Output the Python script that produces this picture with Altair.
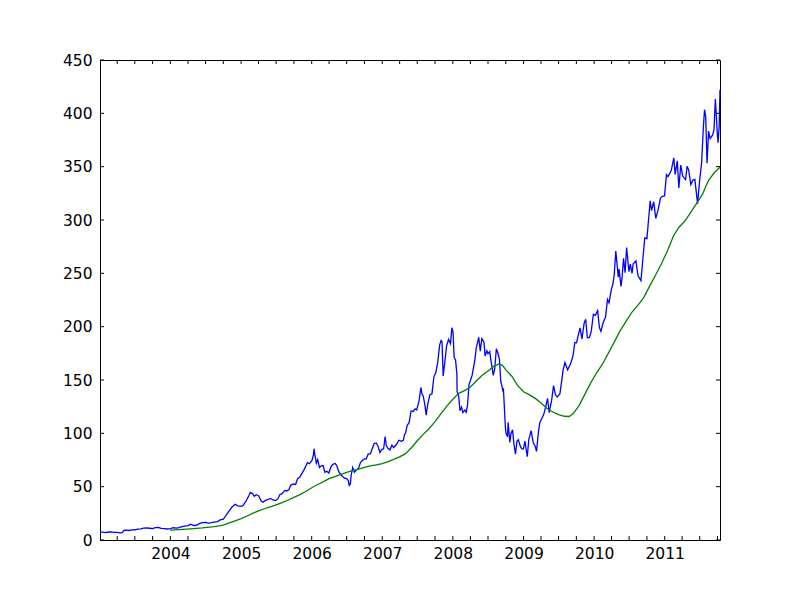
import altair as alt
import pandas as pd

# ---- data ----
price_dates = [
 "2003-01-02","2003-01-15","2003-02-01","2003-02-15","2003-03-01","2003-03-15","2003-04-01","2003-04-15","2003-04-28",
 "2003-05-05","2003-05-15","2003-06-01","2003-06-15","2003-07-01","2003-07-15","2003-08-01","2003-08-15","2003-09-01",
 "2003-09-15","2003-10-01","2003-10-15","2003-11-01","2003-11-15","2003-12-01","2003-12-15",
 "2004-01-02","2004-01-15","2004-02-01","2004-02-15","2004-03-01","2004-03-15","2004-04-01","2004-04-15","2004-05-01",
 "2004-05-15","2004-06-01","2004-06-15","2004-07-01","2004-07-15","2004-08-01","2004-08-15","2004-09-01","2004-09-15",
 "2004-10-01","2004-10-15","2004-11-01","2004-11-15","2004-12-01","2004-12-15",
 "2005-01-03","2005-01-12","2005-01-20","2005-01-25","2005-02-01","2005-02-10","2005-02-17","2005-03-01","2005-03-10",
 "2005-03-20","2005-04-01","2005-04-15","2005-04-25","2005-05-05","2005-05-20","2005-06-01","2005-06-15","2005-06-28",
 "2005-07-10","2005-07-20","2005-08-01","2005-08-15","2005-08-25","2005-09-05","2005-09-15","2005-09-28","2005-10-10",
 "2005-10-20","2005-11-01","2005-11-10","2005-11-20","2005-12-01","2005-12-10","2005-12-20",
 "2006-01-03","2006-01-10","2006-01-13","2006-01-18","2006-01-25","2006-02-01","2006-02-10","2006-02-20","2006-03-01",
 "2006-03-10","2006-03-20","2006-03-31","2006-04-10","2006-04-20","2006-05-01","2006-05-10","2006-05-20","2006-06-01",
 "2006-06-10","2006-06-20","2006-07-01","2006-07-10","2006-07-14","2006-07-20","2006-07-24","2006-08-01","2006-08-10",
 "2006-08-20","2006-09-01","2006-09-10","2006-09-20","2006-10-01","2006-10-10","2006-10-20","2006-11-01","2006-11-10",
 "2006-11-20","2006-12-01","2006-12-10","2006-12-20","2006-12-29",
 "2007-01-08","2007-01-16","2007-01-22","2007-01-30","2007-02-10","2007-02-20","2007-03-01","2007-03-15","2007-03-28",
 "2007-04-10","2007-04-20","2007-04-26","2007-05-01","2007-05-10","2007-05-20","2007-05-30","2007-06-10","2007-06-20",
 "2007-06-28","2007-07-10","2007-07-20","2007-07-25","2007-08-01","2007-08-10","2007-08-16","2007-08-25","2007-09-05",
 "2007-09-15","2007-09-25","2007-10-05","2007-10-15","2007-10-25","2007-11-01","2007-11-06","2007-11-12","2007-11-20",
 "2007-11-30","2007-12-10","2007-12-20","2007-12-27",
 "2008-01-02","2008-01-08","2008-01-15","2008-01-22","2008-01-23","2008-01-31","2008-02-07","2008-02-15","2008-02-22",
 "2008-03-03","2008-03-10","2008-03-17","2008-03-25","2008-04-01","2008-04-10","2008-04-24","2008-05-01","2008-05-14",
 "2008-05-22","2008-05-30","2008-06-10","2008-06-16","2008-06-25","2008-07-01","2008-07-10","2008-07-15","2008-07-22",
 "2008-07-28","2008-08-05","2008-08-13","2008-08-20","2008-08-29","2008-09-05","2008-09-16","2008-09-19","2008-09-29",
 "2008-10-02","2008-10-10","2008-10-13","2008-10-22","2008-10-28","2008-11-05","2008-11-12","2008-11-20","2008-11-28",
 "2008-12-05","2008-12-15","2008-12-22","2008-12-31",
 "2009-01-08","2009-01-14","2009-01-20","2009-01-28","2009-02-09","2009-02-20","2009-03-02","2009-03-09","2009-03-19",
 "2009-03-26","2009-04-02","2009-04-15","2009-04-24","2009-05-05","2009-05-13","2009-05-26","2009-06-05","2009-06-15",
 "2009-06-24","2009-07-08","2009-07-20","2009-07-24","2009-08-03","2009-08-17","2009-09-01","2009-09-14","2009-09-23",
 "2009-10-02","2009-10-20","2009-10-30","2009-11-10","2009-11-18","2009-11-27","2009-12-08","2009-12-17","2009-12-28",
 "2010-01-07","2010-01-19","2010-01-28","2010-02-05","2010-02-16","2010-03-01","2010-03-11","2010-03-19","2010-03-31",
 "2010-04-08","2010-04-15","2010-04-23","2010-05-06","2010-05-10","2010-05-20","2010-05-25","2010-06-02","2010-06-10",
 "2010-06-18","2010-06-30","2010-07-07","2010-07-16","2010-07-22","2010-08-05","2010-08-16","2010-08-31","2010-09-10",
 "2010-09-20","2010-10-01","2010-10-18","2010-10-25","2010-11-05","2010-11-16","2010-11-30","2010-12-10","2010-12-20",
 "2010-12-31",
 "2011-01-10","2011-01-18","2011-01-26","2011-02-04","2011-02-17","2011-02-24","2011-03-07","2011-03-15","2011-03-25",
 "2011-04-04","2011-04-19","2011-04-27","2011-05-05","2011-05-16","2011-05-27","2011-06-06","2011-06-20","2011-06-30",
 "2011-07-11","2011-07-20","2011-07-26","2011-08-01","2011-08-08","2011-08-16","2011-08-24","2011-09-06","2011-09-13",
 "2011-09-20","2011-09-30","2011-10-04","2011-10-10","2011-10-14",
]
price_values = [
 7.4,7.3,7.0,7.5,7.6,7.2,7.1,6.7,7.0,
 9.1,9.3,8.9,9.5,9.6,10.2,10.5,11.2,11.4,
 11.0,10.6,11.6,11.7,10.8,10.6,10.3,
 10.7,11.5,11.2,11.6,12.6,13.0,13.5,14.8,13.6,
 13.8,15.6,16.2,16.5,15.8,16.2,16.8,17.3,18.8,
 19.6,23.0,27.5,31.0,33.5,32.0,
 31.6,32.5,35.0,36.0,38.5,41.5,44.6,43.5,41.0,
 42.5,41.5,36.5,35.5,37.0,38.0,39.0,37.5,37.0,
 38.5,42.5,43.5,46.5,46.0,47.0,51.5,52.5,52.0,
 57.5,59.0,62.0,65.0,69.0,72.5,71.5,
 74.8,80.0,85.6,79.0,72.0,75.5,68.0,69.5,69.8,
 63.5,64.5,62.8,68.5,70.8,71.9,70.0,64.5,61.0,
 59.5,58.0,57.5,55.5,51.2,52.5,60.5,68.0,63.5,
 65.5,67.5,72.5,74.5,76.0,76.0,80.5,81.0,85.5,
 90.5,91.0,88.0,82.0,84.8,
 85.5,97.0,88.5,86.0,84.5,89.0,86.5,89.5,93.5,
 92.5,93.5,98.8,100.0,107.5,110.0,121.0,120.5,123.0,
 122.0,130.0,143.0,137.0,135.0,126.0,117.0,128.0,136.5,
 137.0,153.0,157.0,166.5,183.0,187.0,186.0,153.8,166.0,
 182.0,188.0,184.0,199.0,
 194.8,171.0,169.0,155.6,139.0,135.4,121.2,124.6,119.5,
 121.7,119.7,126.4,146.0,149.5,154.5,168.9,180.0,190.0,
 177.0,188.8,185.6,172.4,177.4,174.7,176.6,169.6,162.0,
 154.4,160.6,179.3,175.8,169.5,148.9,139.9,140.9,105.3,
 100.1,96.8,110.3,91.5,99.9,103.3,90.1,80.5,92.7,
 94.0,88.0,85.7,85.4,
 92.7,85.3,78.2,94.2,102.5,91.2,87.9,83.1,101.6,
 109.9,112.7,117.6,123.9,132.7,119.5,130.8,144.7,136.1,
 134.0,137.2,152.9,159.0,166.4,159.6,165.3,172.9,185.2,
 184.9,198.8,188.5,203.0,207.0,189.6,189.9,195.6,211.6,
 210.6,215.0,199.3,195.5,203.4,209.0,225.5,222.3,235.0,
 239.9,248.9,270.8,246.3,254.0,237.8,245.2,264.0,250.5,
 274.1,251.5,258.7,249.9,259.0,261.7,247.6,243.1,263.4,
 283.2,282.5,318.0,308.8,317.1,301.6,311.2,320.6,322.2,
 322.6,
 342.5,340.7,343.2,346.5,358.3,342.8,355.4,330.0,351.5,
 341.2,337.9,350.4,346.8,333.3,337.4,338.0,315.3,335.7,
 354.0,386.9,403.4,396.8,353.2,383.4,376.2,379.7,384.6,
 413.5,381.3,372.5,388.8,422.0,
]

ma_dates = [
 "2003-12-31","2004-02-15","2004-04-15","2004-06-15","2004-08-15","2004-10-01","2004-11-01","2004-12-01",
 "2005-01-01","2005-02-01","2005-03-01","2005-04-01","2005-05-01","2005-06-01","2005-07-01","2005-08-01",
 "2005-09-01","2005-10-01","2005-11-01","2005-12-01","2006-01-01","2006-02-01","2006-03-01","2006-04-01",
 "2006-05-01","2006-06-01","2006-07-01","2006-08-01","2006-09-01","2006-10-01","2006-11-01","2006-12-01",
 "2007-01-01","2007-02-01","2007-03-01","2007-04-01","2007-05-01","2007-06-01","2007-07-01","2007-08-01",
 "2007-09-01","2007-10-01","2007-11-01","2007-12-01","2008-01-01","2008-02-01","2008-03-01","2008-04-01",
 "2008-05-01","2008-06-01","2008-07-01","2008-08-01","2008-08-28","2008-09-15","2008-10-01","2008-11-01",
 "2008-12-01","2009-01-01","2009-02-01","2009-03-01","2009-04-01","2009-05-01","2009-06-01","2009-07-01",
 "2009-08-01","2009-08-25","2009-09-15","2009-10-15","2009-11-15","2009-12-15","2010-01-15","2010-02-15",
 "2010-03-15","2010-04-15","2010-05-15","2010-06-15","2010-07-15","2010-08-15","2010-09-15","2010-10-15",
 "2010-11-15","2010-12-15","2011-01-15","2011-02-15","2011-03-15","2011-04-15","2011-05-15","2011-06-15",
 "2011-07-15","2011-08-15","2011-09-15","2011-10-14",
]
ma_values = [
 9.3,9.8,10.5,11.3,12.5,14.0,16.0,18.0,
 20.0,22.5,25.0,27.3,29.3,31.0,33.0,35.0,
 37.5,40.0,42.5,45.5,49.0,52.0,54.5,57.5,
 59.5,61.5,63.5,65.0,66.5,68.0,69.5,70.5,
 71.5,73.5,75.5,78.0,81.0,86.5,93.0,99.0,
 104.5,111.0,118.5,125.5,132.0,137.5,140.0,143.5,
 149.0,154.5,158.5,163.0,165.0,163.5,159.5,153.5,
 145.0,139.0,136.0,133.0,128.5,123.5,120.0,117.5,
 116.0,115.8,118.5,126.0,137.0,147.5,157.0,165.5,
 175.0,185.5,196.0,205.0,213.5,220.0,227.5,238.0,
 248.5,259.0,271.0,285.0,293.0,299.0,307.0,315.5,
 324.0,337.0,344.5,349.4,
]

year_labels = [2004, 2005, 2006, 2007, 2008, 2009, 2010, 2011]
y_ticks = [0, 50, 100, 150, 200, 250, 300, 350, 400, 450]
quarter_ticks = [f"{y}-{m:02d}-01" for y in range(2003, 2012) for m in (1, 4, 7, 10)
                 if "2003-01-02" < f"{y}-{m:02d}-01" <= "2011-10-14"]
x_start, x_end = "2003-01-02", "2011-10-14"


def ms(s):
    return int(pd.Timestamp(s, tz="UTC").timestamp() * 1000)


W, H = 620, 480
FONT = "DejaVu Sans"
FS = 15.5

xscale = alt.Scale(type="utc", domain=[ms(x_start), ms(x_end)], nice=False)
yscale = alt.Scale(domain=[0, 450], nice=False)

price = pd.DataFrame({"date": price_dates, "value": price_values})
ma = pd.DataFrame({"date": ma_dates, "value": ma_values})

xaxis = alt.Axis(values=[ms(f"{y}-01-01") for y in year_labels],
                 labelExpr="utcFormat(datum.value, '%Y')",
                 ticks=False, domain=False, grid=False,
                 labelPadding=6, labelFont=FONT, labelFontSize=FS,
                 labelColor="black", title=None, labelOverlap=False, labelFlush=False)
yaxis = alt.Axis(values=y_ticks, ticks=False, domain=False, grid=False,
                 labelPadding=8, labelFont=FONT, labelFontSize=FS,
                 labelColor="black", title=None, labelOverlap=False, labelFlush=False)

blue = alt.Chart(price).mark_line(color="#0000ff", strokeWidth=1.3).encode(
    x=alt.X("date:T", scale=xscale, axis=xaxis),
    y=alt.Y("value:Q", scale=yscale, axis=yaxis),
)
green = alt.Chart(ma).mark_line(color="#008000", strokeWidth=1.3).encode(
    x=alt.X("date:T", scale=xscale, axis=xaxis),
    y=alt.Y("value:Q", scale=yscale, axis=yaxis),
)

xt = pd.DataFrame({"date": quarter_ticks})
yt = pd.DataFrame({"value": y_ticks})
tick_bottom = alt.Chart(xt).mark_rule(color="black", strokeWidth=1).encode(
    x=alt.X("date:T", scale=xscale, axis=xaxis), y=alt.value(H), y2=alt.value(H - 4))
tick_top = alt.Chart(xt).mark_rule(color="black", strokeWidth=1).encode(
    x=alt.X("date:T", scale=xscale, axis=xaxis), y=alt.value(0), y2=alt.value(4))
tick_left = alt.Chart(yt).mark_rule(color="black", strokeWidth=1).encode(
    y=alt.Y("value:Q", scale=yscale, axis=yaxis), x=alt.value(0), x2=alt.value(4))
tick_right = alt.Chart(yt).mark_rule(color="black", strokeWidth=1).encode(
    y=alt.Y("value:Q", scale=yscale, axis=yaxis), x=alt.value(W), x2=alt.value(W - 4))

chart = alt.layer(blue, green, tick_bottom, tick_top, tick_left, tick_right).properties(
    width=W, height=H,
    autosize=alt.AutoSizeParams(type="none"),
    padding={"left": 100, "top": 60, "right": 80, "bottom": 60},
    background="white",
).configure_view(stroke="black", strokeWidth=1)

chart.save("out.html", embed_options={"renderer": "svg", "actions": False})
